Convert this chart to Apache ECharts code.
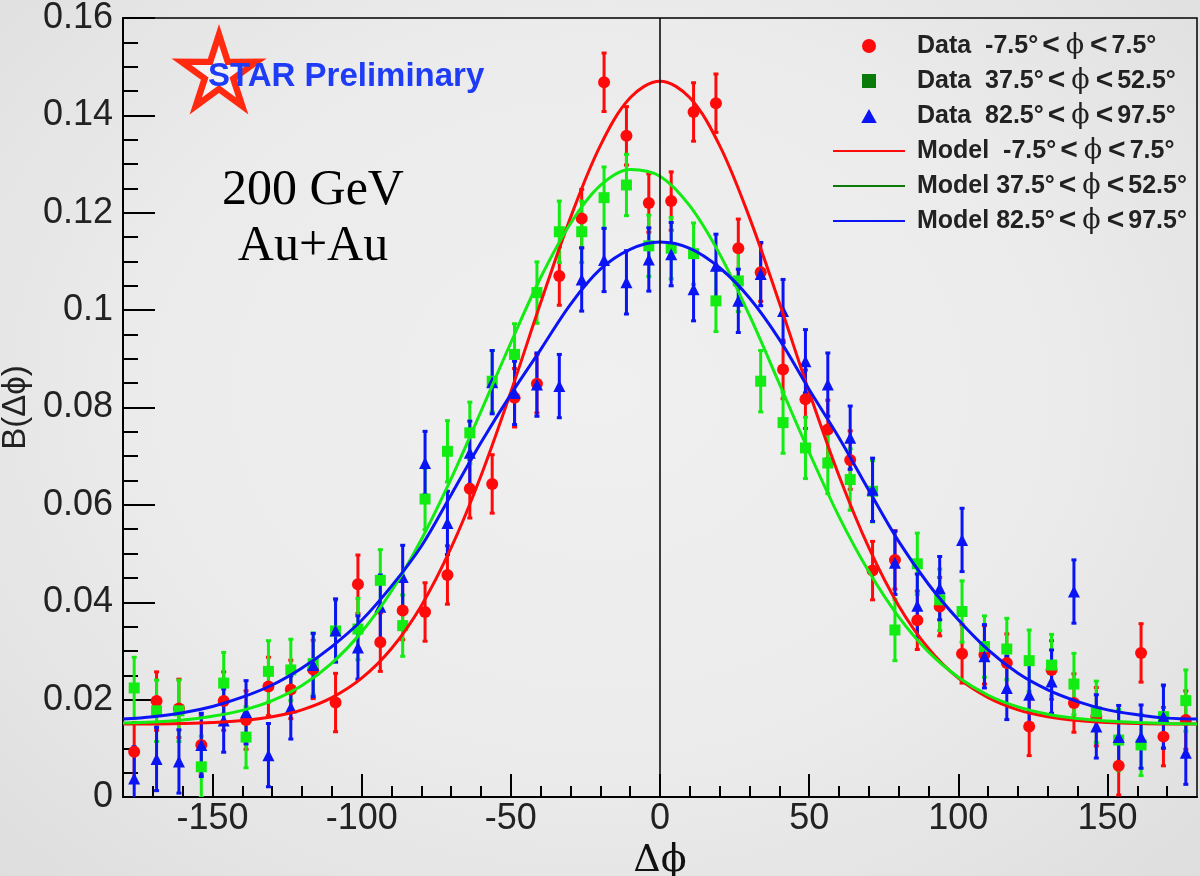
<!DOCTYPE html>
<html>
<head>
<meta charset="utf-8">
<script src="https://cdn.jsdelivr.net/npm/echarts@6/dist/echarts.min.js"></script>
<style>
  html, body { margin: 0; padding: 0; }
  #chart {
    width: 1200px; height: 876px;
    background: radial-gradient(ellipse at 50% 45%, #f0f0f0 0%, #ebebeb 55%, #dedede 100%);
  }
</style>
</head>
<body>
<div id="chart"></div>
<script>
// bin centres (deg)
const binCenters = [-176.25, -168.75, -161.25, -153.75, -146.25, -138.75, -131.25, -123.75,
  -116.25, -108.75, -101.25, -93.75, -86.25, -78.75, -71.25, -63.75, -56.25, -48.75, -41.25,
  -33.75, -26.25, -18.75, -11.25, -3.75, 3.75, 11.25, 18.75, 26.25, 33.75, 41.25, 48.75, 56.25,
  63.75, 71.25, 78.75, 86.25, 93.75, 101.25, 108.75, 116.25, 123.75, 131.25, 138.75, 146.25,
  153.75, 161.25, 168.75, 176.25];

const redData = [0.0093, 0.0197, 0.0182, 0.0107, 0.0197, 0.0158, 0.0227, 0.0221, 0.0262, 0.0194,
  0.0437, 0.0318, 0.0383, 0.0380, 0.0456, 0.0633, 0.0643, 0.0820, 0.0849, 0.1070, 0.1188, 0.1468,
  0.1358, 0.1220, 0.1224, 0.1407, 0.1425, 0.1127, 0.1078, 0.0878, 0.0817, 0.0755, 0.0692, 0.0465,
  0.0487, 0.0363, 0.0391, 0.0294, 0.0292, 0.0275, 0.0145, 0.0261, 0.0193, 0.0165, 0.0064, 0.0296,
  0.0124, 0.0158];
const greenData = [0.0224, 0.0177, 0.0177, 0.0062, 0.0234, 0.0123, 0.0258, 0.0261, 0.0274, 0.0341,
  0.0345, 0.0445, 0.0352, 0.0612, 0.0710, 0.0748, 0.0854, 0.0909, 0.1036, 0.1161, 0.1161, 0.1231,
  0.1257, 0.1132, 0.1127, 0.1116, 0.1019, 0.1060, 0.0854, 0.0769, 0.0717, 0.0686, 0.0652, 0.0628,
  0.0343, 0.0479, 0.0405, 0.0381, 0.0309, 0.0304, 0.0280, 0.0271, 0.0232, 0.0175, 0.0117, 0.0107,
  0.0165, 0.0198];
const blueData = [0.0038, 0.0078, 0.0073, 0.0107, 0.0157, 0.0174, 0.0086, 0.0184, 0.0271, 0.0342,
  0.0307, 0.0391, 0.0452, 0.0686, 0.0563, 0.0707, 0.0852, 0.0830, 0.0847, 0.0844, 0.1063, 0.1103,
  0.1057, 0.1104, 0.1115, 0.1043, 0.1091, 0.1019, 0.1074, 0.0998, 0.0895, 0.0847, 0.0738, 0.0631,
  0.0481, 0.0393, 0.0429, 0.0528, 0.0289, 0.0224, 0.0210, 0.0237, 0.0422, 0.0145, 0.0123, 0.0124,
  0.0165, 0.0091];

// error bar half widths
const redErr = 0.0060;
const greenErr = 0.0063;
const blueErr = 0.0065;

// model curves, read every 10 deg
const modelX = [-180, -170, -160, -150, -140, -130, -120, -110, -100, -90, -80, -70, -60, -50, -40,
  -30, -20, -10, 0, 10, 20, 30, 40, 50, 60, 70, 80, 90, 100, 110, 120, 130, 140, 150, 160, 170, 180];
const redModel = [0.0150, 0.0150, 0.0151, 0.0153, 0.0157, 0.0165, 0.0179, 0.0204, 0.0244, 0.0305,
  0.0393, 0.0512, 0.0660, 0.0832, 0.1015, 0.1190, 0.1338, 0.1436, 0.1470, 0.1436, 0.1338, 0.1190,
  0.1015, 0.0832, 0.0660, 0.0512, 0.0393, 0.0305, 0.0244, 0.0204, 0.0179, 0.0165, 0.0157, 0.0153,
  0.0151, 0.0150, 0.0150];
const greenModel = [0.0152, 0.0154, 0.0158, 0.0166, 0.0178, 0.0198, 0.0229, 0.0275, 0.0339, 0.0423,
  0.0529, 0.0654, 0.0792, 0.0933, 0.1067, 0.1178, 0.1256, 0.1289, 0.1275, 0.1214, 0.1115, 0.0989,
  0.0849, 0.0708, 0.0576, 0.0463, 0.0370, 0.0298, 0.0246, 0.0209, 0.0185, 0.0170, 0.0161, 0.0156,
  0.0153, 0.0151, 0.0150];
const blueModel = [0.0160, 0.0165, 0.0173, 0.0186, 0.0205, 0.0230, 0.0265, 0.0309, 0.0363, 0.0433,
  0.0515, 0.0621, 0.0728, 0.0827, 0.0919, 0.1012, 0.1084, 0.1125, 0.1140, 0.1127, 0.1087, 0.1025,
  0.0940, 0.0837, 0.0738, 0.0630, 0.0525, 0.0437, 0.0364, 0.0302, 0.0254, 0.0220, 0.0196, 0.0179,
  0.0169, 0.0162, 0.0160];

const xMajorTicks = [-150, -100, -50, 0, 50, 100, 150];
const xMinorTicks = [-170, -160, -140, -130, -120, -110, -90, -80, -70, -60, -40, -30, -20, -10,
  10, 20, 30, 40, 60, 70, 80, 90, 110, 120, 130, 140, 160, 170];

const dataNames = ['Data  -7.5°<ϕ<7.5°', 'Data  37.5°<ϕ<52.5°', 'Data  82.5°<ϕ<97.5°'];
const modelNames = ['Model  -7.5°<ϕ<7.5°', 'Model 37.5°<ϕ<52.5°', 'Model 82.5°<ϕ<97.5°'];

const RED = '#ff0a0a', GREEN = '#12ec12', BLUE = '#0a14f5', DARKGREEN = '#0a7a0a';
const SANS = "'Liberation Sans', Arial, 'DejaVu Sans', sans-serif";
const SERIF = "'DejaVu Serif', 'Liberation Serif', serif";

function errorBars(name, ys, err, color) {
  return {
    type: 'custom',
    name: name,
    clip: true,
    encode: { x: 0, y: 1 },
    data: binCenters.map((x, i) => [x, ys[i], err]),
    renderItem: function (params, api) {
      const x = api.value(0), y = api.value(1), e = api.value(2);
      const top = api.coord([x, y + e]);
      const bot = api.coord([x, y - e]);
      const st = { stroke: color, lineWidth: 3 };
      return {
        type: 'group',
        children: [
          { type: 'line', shape: { x1: top[0], y1: top[1], x2: bot[0], y2: bot[1] }, style: st },
          { type: 'line', shape: { x1: top[0] - 2.5, y1: top[1], x2: top[0] + 2.5, y2: top[1] }, style: st },
          { type: 'line', shape: { x1: bot[0] - 2.5, y1: bot[1], x2: bot[0] + 2.5, y2: bot[1] }, style: st }
        ]
      };
    }
  };
}

function points(name, ys, symbol, size, color) {
  return {
    type: 'scatter', name: name, symbol: symbol, symbolSize: size,
    itemStyle: { color: color, opacity: 1 },
    data: binCenters.map((x, i) => [x, ys[i]])
  };
}

function model(name, ys, color) {
  return {
    type: 'line', name: name, smooth: 0.35, showSymbol: false,
    lineStyle: { color: color, width: 3 },
    itemStyle: { color: color },
    data: modelX.map((x, i) => [x, ys[i]])
  };
}

// star logo geometry
const starPts = (cx, cy, R, r) => {
  const pts = [];
  for (let k = 0; k < 10; k++) {
    const a = -Math.PI / 2 + k * Math.PI / 5;
    const rad = k % 2 === 0 ? R : r;
    pts.push([cx + rad * Math.cos(a), cy + rad * Math.sin(a)]);
  }
  return pts;
};

const chart = echarts.init(document.getElementById('chart'));

const option = {
  animation: false,
  backgroundColor: 'transparent',
  grid: {
    left: 123, right: 3, top: 18, bottom: 79,
    outerBoundsMode: 'none', containLabel: false,
    show: true, borderColor: '#000', borderWidth: 1.5
  },
  xAxis: [
    {
      type: 'value', min: -180, max: 180,
      axisLine: { onZero: false, lineStyle: { color: '#000', width: 2 } },
      axisTick: { inside: true, length: 23, customValues: xMajorTicks, lineStyle: { color: '#000', width: 2 } },
      axisLabel: { customValues: xMajorTicks, fontSize: 36, fontFamily: SANS, color: '#222', margin: 4 },
      splitLine: { show: false },
      name: 'Δϕ', nameLocation: 'middle', nameGap: 34,
      nameTextStyle: { fontFamily: SERIF, fontSize: 38, color: '#111' }
    },
    {
      type: 'value', min: -180, max: 180, position: 'bottom',
      axisLine: { show: false, onZero: false },
      axisTick: { inside: true, length: 11, customValues: xMinorTicks, lineStyle: { color: '#000', width: 2 } },
      axisLabel: { show: false },
      splitLine: { show: false }
    }
  ],
  yAxis: {
    type: 'value', min: 0, max: 0.16, interval: 0.02,
    axisLine: { show: true, onZero: false, lineStyle: { color: '#000', width: 2 } },
    axisTick: { inside: true, length: 32, lineStyle: { color: '#000', width: 2 } },
    minorTick: { show: true, splitNumber: 4, length: 15, lineStyle: { color: '#000', width: 2 } },
    splitLine: { show: false },
    axisLabel: { fontSize: 36, fontFamily: SANS, color: '#222', margin: 10 },
    name: 'B(Δϕ)', nameLocation: 'middle', nameGap: 80,
    nameTextStyle: { fontFamily: SANS, fontSize: 33, color: '#222' }
  },
  legend: {
    orient: 'vertical', left: 828, top: 26,
    itemWidth: 72, itemHeight: 14, itemGap: 5,
    data: [
      { name: dataNames[0], icon: 'circle', itemStyle: { color: RED } },
      { name: dataNames[1], icon: 'path://M0,0h10v10h-10z', itemStyle: { color: DARKGREEN } },
      { name: dataNames[2], icon: 'path://M5,0L10,9L0,9Z', itemStyle: { color: BLUE } },
      { name: modelNames[0], icon: 'path://M0,0h71v2h-71z', itemStyle: { color: RED } },
      { name: modelNames[1], icon: 'path://M0,0h71v2h-71z', itemStyle: { color: DARKGREEN } },
      { name: modelNames[2], icon: 'path://M0,0h71v2h-71z', itemStyle: { color: BLUE } }
    ],
    formatter: n => n.replace(/</g, '{l|<}').replace('ϕ', '{p|ϕ}'),
    textStyle: {
      fontFamily: SANS, fontWeight: 'bold', fontSize: 25, color: '#222', lineHeight: 24,
      padding: [0, 0, 0, 7],
      rich: {
        p: { fontFamily: SERIF, fontWeight: 'normal', fontSize: 27, color: '#222', lineHeight: 24, padding: [0, 2, 0, 2] },
        l: { fontFamily: SANS, fontWeight: 'bold', fontSize: 30, color: '#222', lineHeight: 24, padding: [0, 4, 0, 4] }
      }
    },
    selectedMode: false
  },
  graphic: [
    { type: 'polygon', shape: { points: starPts(219, 74, 50, 19) }, style: { fill: '#ff2a10' }, z: 10 },
    { type: 'polygon', shape: { points: starPts(219, 74, 29, 11) }, style: { fill: '#f3f3f3' }, z: 11 },
    {
      type: 'text', x: 208, y: 77, z: 12,
      style: { text: 'STAR Preliminary', fill: '#1e3cf5', font: "bold 33px 'Liberation Sans', Arial, sans-serif", verticalAlign: 'middle' }
    },
    {
      type: 'text', x: 313, y: 191, z: 12,
      style: { text: '200 GeV', fill: '#000', font: "50px 'Liberation Serif', 'Times New Roman', serif", align: 'center', verticalAlign: 'middle' }
    },
    {
      type: 'text', x: 313, y: 247, z: 12,
      style: { text: 'Au+Au', fill: '#000', font: "50px 'Liberation Serif', 'Times New Roman', serif", align: 'center', verticalAlign: 'middle' }
    }
  ],
  series: [
    Object.assign(errorBars('redErr', redData, redErr, RED), {
      markLine: {
        silent: true, symbol: 'none', label: { show: false },
        lineStyle: { color: '#000', width: 1.5, type: 'solid' },
        data: [{ xAxis: 0 }]
      }
    }),
    points(dataNames[0], redData, 'circle', 12, RED),
    errorBars('greenErr', greenData, greenErr, GREEN),
    points(dataNames[1], greenData, 'rect', 11, GREEN),
    errorBars('blueErr', blueData, blueErr, BLUE),
    points(dataNames[2], blueData, 'triangle', 12, BLUE),
    model(modelNames[0], redModel, RED),
    model(modelNames[1], greenModel, GREEN),
    model(modelNames[2], blueModel, BLUE)
  ]
};

chart.setOption(option);
</script>
</body>
</html>
